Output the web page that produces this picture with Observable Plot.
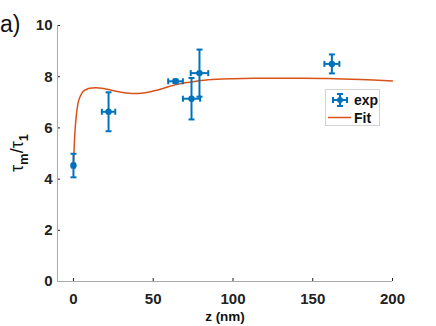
<!DOCTYPE html>
<html><head><meta charset="utf-8">
<script src="https://cdn.jsdelivr.net/npm/d3@7"></script>
<script src="https://cdn.jsdelivr.net/npm/@observablehq/plot@0.6"></script>
<style>
body{margin:0;background:#fff;font-family:"Liberation Sans",Arial,sans-serif;}
#wrap{position:relative;width:436px;height:326px;}
#legend{position:absolute;left:325px;top:89px;width:55px;height:37px;border:1px solid #d4d4d4;background:#fff;box-sizing:border-box;font-weight:bold;font-size:14px;color:#111;}
</style></head><body>
<div id="wrap"></div>
<script>
// experimental points
const zExp   = [0, 22, 64, 74, 79, 162];
const tauExp = [4.53, 6.63, 7.82, 7.14, 8.14, 8.5];
const zErr   = [1, 4.2, 4.6, 5.4, 5.5, 4.7];
const tauErr = [0.46, 0.76, 0.07, 0.81, 0.92, 0.37];
// fit curve
const zFit   = [0, 0.5, 1, 2, 3, 4, 6, 8, 10, 14, 18, 22, 26, 30, 35, 40, 45, 50, 55, 60, 65, 70, 75, 80, 90, 100, 120, 140, 160, 180, 200];
const tauFit = [4.5, 5.3, 5.9, 6.6, 7.0, 7.2, 7.42, 7.5, 7.55, 7.57, 7.55, 7.5, 7.44, 7.39, 7.35, 7.34, 7.37, 7.44, 7.52, 7.62, 7.7, 7.76, 7.8, 7.85, 7.9, 7.92, 7.94, 7.94, 7.93, 7.89, 7.83];
const xTicks = [0, 50, 100, 150, 200];
const yTicks = [0, 2, 4, 6, 8, 10];

const pts = zExp.map((z, i) => ({z, t: tauExp[i], dz: zErr[i], dt: tauErr[i]}));
const fit = zFit.map((z, i) => ({z, t: tauFit[i]}));

const blue = "#0072BD", orange = "#D95319";
const hcap = {draw(ctx, size){const r = Math.sqrt(size/Math.PI); ctx.moveTo(-r,0); ctx.lineTo(r,0);}};
const vcap = {draw(ctx, size){const r = Math.sqrt(size/Math.PI); ctx.moveTo(0,-r); ctx.lineTo(0,r);}};

const chart = Plot.plot({
  width: 436, height: 326,
  marginLeft: 57, marginRight: 44, marginTop: 25, marginBottom: 45,
  style: {fontSize: "15px", fontWeight: "bold", fontFamily: "Liberation Sans, Arial, sans-serif", color: "#222", background: "#fff", overflow: "visible"},
  x: {domain: [-10, 200], ticks: xTicks, tickSize: -3, tickPadding: 15, label: null},
  y: {domain: [0, 10], ticks: yTicks, tickSize: -3, tickPadding: 8, label: null},
  marks: [
    Plot.ruleX([-10], {stroke: "#aaa"}),
    Plot.ruleY([0], {stroke: "#aaa"}),
    Plot.line(fit, {x: "z", y: "t", stroke: orange, strokeWidth: 1.5, curve: "catmull-rom"}),
    Plot.ruleX(pts, {x: "z", y1: d => d.t - d.dt, y2: d => d.t + d.dt, stroke: blue, strokeWidth: 2}),
    Plot.ruleY(pts, {y: "t", x1: d => d.z - d.dz, x2: d => d.z + d.dz, stroke: blue, strokeWidth: 2}),
    Plot.dot(pts, {x: "z", y: d => d.t - d.dt, symbol: hcap, r: 3, stroke: blue, strokeWidth: 2}),
    Plot.dot(pts, {x: "z", y: d => d.t + d.dt, symbol: hcap, r: 3, stroke: blue, strokeWidth: 2}),
    Plot.dot(pts, {x: d => d.z - d.dz, y: "t", symbol: vcap, r: 3, stroke: blue, strokeWidth: 2}),
    Plot.dot(pts, {x: d => d.z + d.dz, y: "t", symbol: vcap, r: 3, stroke: blue, strokeWidth: 2}),
    Plot.dot(pts, {x: "z", y: "t", r: 3.2, fill: blue})
  ]
});
document.getElementById("wrap").appendChild(chart);

const svg = d3.select(chart);
svg.append("text").attr("x", 0).attr("y", 32).attr("text-anchor", "start").attr("font-size", 23).attr("font-weight", "normal").attr("fill", "#111").text("a)");
svg.append("text").attr("x", 225).attr("y", 321).attr("text-anchor", "middle").attr("font-size", 13.5).attr("font-weight", "bold").attr("fill", "#111").text("z (nm)");
const yl = svg.append("text").attr("transform", "translate(23,153) rotate(-90)").attr("text-anchor", "middle").attr("fill", "#111").attr("font-size", 18).attr("font-weight", "normal");
yl.append("tspan").text("τ");
yl.append("tspan").attr("font-size", 13).attr("font-weight", "bold").attr("dy", 5).text("m");
yl.append("tspan").attr("dy", -5).text("/τ");
yl.append("tspan").attr("font-size", 13).attr("font-weight", "bold").attr("dy", 5).text("1");

// legend
const leg = document.createElement("div");
leg.id = "legend";
leg.innerHTML = `<svg width="55" height="37" style="position:absolute;left:-1px;top:-1px;overflow:visible">
<g stroke="${blue}" stroke-width="2" fill="none">
<line x1="15" y1="5" x2="15" y2="17"/><line x1="8" y1="11" x2="22" y2="11"/>
<line x1="12" y1="5" x2="18" y2="5"/><line x1="12" y1="17" x2="18" y2="17"/>
<line x1="8" y1="8" x2="8" y2="14"/><line x1="22" y1="8" x2="22" y2="14"/></g>
<circle cx="15" cy="11" r="3" fill="${blue}"/>
<line x1="3" y1="28.5" x2="26" y2="28.5" stroke="${orange}" stroke-width="1.5"/>
<text x="29" y="16" font-size="14" font-weight="bold" fill="#111" font-family="Liberation Sans, Arial, sans-serif">exp</text>
<text x="29" y="34" font-size="14" font-weight="bold" fill="#111" font-family="Liberation Sans, Arial, sans-serif">Fit</text>
</svg>`;
document.getElementById("wrap").appendChild(leg);
</script>
</body></html>
